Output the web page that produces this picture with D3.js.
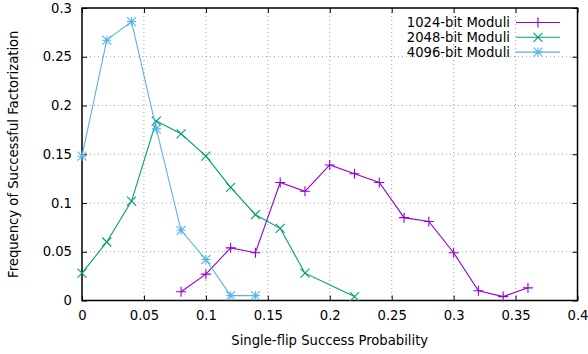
<!DOCTYPE html>
<html>
<head>
<meta charset="utf-8">
<script src="https://cdn.jsdelivr.net/npm/d3@7"></script>
<style>
  body { margin: 0; background: #fff; }
  text { font-family: "DejaVu Sans", sans-serif; fill: #000; }
</style>
</head>
<body>
<div id="chart"></div>
<script>
// success probability (x) and frequency (y) per modulus size
const xs1024 = [0.08, 0.10, 0.12, 0.14, 0.16, 0.18, 0.20, 0.22, 0.24, 0.26, 0.28, 0.30, 0.32, 0.34, 0.36];
const ys1024 = [0.009, 0.027, 0.054, 0.049, 0.121, 0.112, 0.139, 0.130, 0.121, 0.085, 0.081, 0.049, 0.010, 0.004, 0.013];

const xs2048 = [0, 0.02, 0.04, 0.06, 0.08, 0.10, 0.12, 0.14, 0.16, 0.18, 0.22];
const ys2048 = [0.028, 0.060, 0.102, 0.184, 0.171, 0.148, 0.116, 0.088, 0.074, 0.028, 0.004];

const xs4096 = [0, 0.02, 0.04, 0.06, 0.08, 0.10, 0.12, 0.14];
const ys4096 = [0.148, 0.267, 0.286, 0.176, 0.072, 0.042, 0.005, 0.005];

const seriesNames = ["1024-bit Moduli", "2048-bit Moduli", "4096-bit Moduli"];
const xTicks = [0, 0.05, 0.1, 0.15, 0.2, 0.25, 0.3, 0.35, 0.4];
const yTicks = [0, 0.05, 0.1, 0.15, 0.2, 0.25, 0.3];

const W = 588, H = 354;
const margin = { top: 8, right: 10.5, bottom: 53.5, left: 82 };
const width = W - margin.left - margin.right;
const height = H - margin.top - margin.bottom;
const fs = 13.2;

const colors = ["#9400d3", "#009e73", "#56b4e9"];
const shapes = ["plus", "cross", "star"];

const svg = d3.select("#chart").append("svg")
    .attr("width", W).attr("height", H);
const g = svg.append("g").attr("transform", `translate(${margin.left},${margin.top})`);

const x = d3.scaleLinear().domain([0, 0.4]).range([0, width]);
const y = d3.scaleLinear().domain([0, 0.3]).range([height, 0]);

// grid
g.append("g").selectAll("line").data(xTicks.slice(1, -1)).join("line")
    .attr("x1", d => x(d)).attr("x2", d => x(d))
    .attr("y1", 0).attr("y2", height)
    .attr("stroke", "#a0a0a0").attr("stroke-width", 1).attr("stroke-dasharray", "1,3");
g.append("g").selectAll("line").data(yTicks.slice(1, -1)).join("line")
    .attr("y1", d => y(d)).attr("y2", d => y(d))
    .attr("x1", 0).attr("x2", width)
    .attr("stroke", "#a0a0a0").attr("stroke-width", 1).attr("stroke-dasharray", "1,3");

// axes (ticks inward, mirrored)
const tk = 5;
g.append("g").attr("transform", `translate(0,${height})`)
    .call(d3.axisBottom(x).tickValues(xTicks).tickFormat(d3.format("")).tickSize(-tk).tickPadding(10))
    .call(a => a.select(".domain").remove())
    .selectAll("text").attr("font-size", fs);
g.append("g")
    .call(d3.axisTop(x).tickValues(xTicks).tickFormat("").tickSize(-tk))
    .call(a => a.select(".domain").remove());
g.append("g")
    .call(d3.axisLeft(y).tickValues(yTicks).tickFormat(d3.format("")).tickSize(-tk).tickPadding(10))
    .call(a => a.select(".domain").remove())
    .selectAll("text").attr("font-size", fs);
g.append("g").attr("transform", `translate(${width},0)`)
    .call(d3.axisRight(y).tickValues(yTicks).tickFormat("").tickSize(-tk))
    .call(a => a.select(".domain").remove());
g.selectAll(".tick line").attr("stroke", "#000");

g.append("rect").attr("width", width).attr("height", height)
    .attr("fill", "none").attr("stroke", "#000").attr("stroke-width", 1.5);

function marker(sel, shape, s) {
  let p = "";
  if (shape === "plus" || shape === "star") p += `M${-s},0H${s}M0,${-s}V${s}`;
  if (shape === "cross" || shape === "star") p += `M${-s},${-s}L${s},${s}M${-s},${s}L${s},${-s}`;
  sel.append("path").attr("d", p);
}

const series = [
  { xs: xs1024, ys: ys1024 },
  { xs: xs2048, ys: ys2048 },
  { xs: xs4096, ys: ys4096 }
];

const line = d3.line().x(d => x(d[0])).y(d => y(d[1]));

series.forEach((s, i) => {
  const pts = s.xs.map((v, j) => [v, s.ys[j]]);
  g.append("path").datum(pts).attr("d", line)
      .attr("fill", "none").attr("stroke", colors[i]).attr("stroke-width", 1.1);
  g.append("g").selectAll("g").data(pts).join("g")
      .attr("transform", d => `translate(${x(d[0])},${y(d[1])})`)
      .attr("stroke", colors[i]).attr("stroke-width", 1.1).attr("fill", "none")
      .each(function () { marker(d3.select(this), shapes[i], shapes[i] === "plus" ? 5 : 4.5); });
});

// legend
const leg = svg.append("g");
seriesNames.forEach((name, i) => {
  const yy = 22.5 + i * 14.8;
  leg.append("text").attr("x", 510).attr("y", yy).attr("dy", "0.35em")
      .attr("text-anchor", "end").attr("font-size", fs).text(name);
  leg.append("line").attr("x1", 516).attr("x2", 560).attr("y1", yy).attr("y2", yy)
      .attr("stroke", colors[i]).attr("stroke-width", 1.1);
  const m = leg.append("g").attr("transform", `translate(538,${yy})`)
      .attr("stroke", colors[i]).attr("fill", "none").attr("stroke-width", 1.1);
  marker(m, shapes[i], shapes[i] === "plus" ? 5 : 4.5);
});

// axis titles
svg.append("text").attr("x", margin.left + width / 2).attr("y", 345)
    .attr("text-anchor", "middle").attr("font-size", fs).text("Single-flip Success Probability");
svg.append("text").attr("transform", `translate(18,${margin.top + height / 2}) rotate(-90)`)
    .attr("text-anchor", "middle").attr("font-size", fs).text("Frequency of Successful Factorization");
</script>
</body>
</html>
